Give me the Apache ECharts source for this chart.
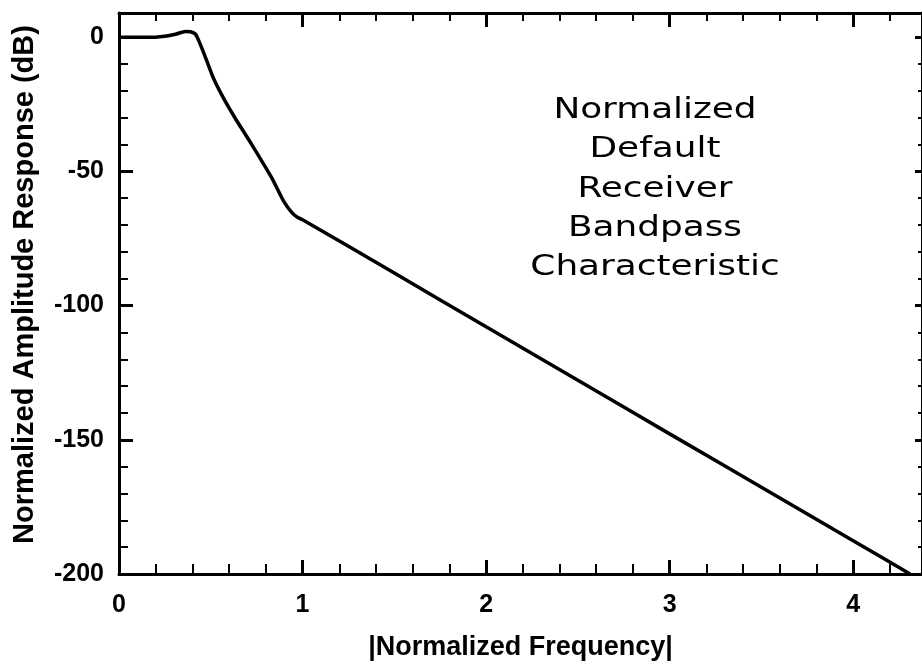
<!DOCTYPE html>
<html>
<head>
<meta charset="utf-8">
<script src="https://cdn.jsdelivr.net/npm/echarts@6/dist/echarts.min.js"></script>
<style>
html,body{margin:0;padding:0;background:#fff;}
#chart{width:922px;height:666px;}
</style>
</head>
<body>
<div id="chart"></div>
<script>
// Data
const freq = [0, 0.1, 0.2, 0.25, 0.308, 0.362, 0.39, 0.417, 0.435, 0.471, 0.516, 0.571, 0.634, 0.725, 0.833, 0.897, 0.942, 0.97, 1.0, 1.5, 2.0, 2.5, 3.0, 3.5, 4.0, 4.31];
const responseDb = [0, 0, 0, 0.3, 1.1, 2.1, 2.0, 1.1, -1.4, -7.5, -15.5, -22.9, -30.3, -40.2, -52.5, -61.1, -65.4, -67.0, -68.0, -87.9, -107.9, -127.8, -147.8, -167.7, -187.6, -200];
const xTickLabels = ['0', '1', '2', '3', '4'];
const yTickLabels = ['0', '-50', '-100', '-150', '-200'];
const annotationLines = ['Normalized', 'Default', 'Receiver', 'Bandpass', 'Characteristic'];
const xTitle = '|Normalized Frequency|';
const yTitle = 'Normalized Amplitude Response (dB)';

const X_MIN = 0, X_MAX = 4.375, Y_MIN = -200, Y_MAX = 9;
const FONT = 'Liberation Sans, Arial, Helvetica, sans-serif';
const lineStyle = {color: '#000', width: 3};

function tick(len, w) {
  return {show: true, inside: true, length: len, lineStyle: {color: '#000', width: w}};
}
function xAx(opts) {
  return Object.assign({
    type: 'value', min: X_MIN, max: X_MAX, gridIndex: 0,
    splitLine: {show: false},
    axisLine: {show: false, onZero: false},
    axisTick: tick(14, 3),
    axisLabel: {show: false}
  }, opts);
}
function yAx(opts) {
  return Object.assign({
    type: 'value', min: Y_MIN, max: Y_MAX, gridIndex: 0,
    splitLine: {show: false},
    axisLine: {show: false, onZero: false},
    axisTick: tick(14, 3),
    axisLabel: {show: false}
  }, opts);
}

const chart = echarts.init(document.getElementById('chart'), null, {renderer: 'canvas'});
chart.setOption({
  animation: false,
  backgroundColor: '#fff',
  grid: {left: 119, right: -2, top: 13, bottom: 87, show: false},
  xAxis: [
    xAx({
      position: 'bottom', interval: 1,
      axisLine: {show: true, onZero: false, lineStyle: lineStyle},
      axisLabel: {
        show: true, margin: 19, color: '#000', fontFamily: FONT, fontWeight: 'bold', fontSize: 25,
        showMaxLabel: false,
        formatter: function (v) { const i = Math.round(v); return Math.abs(v - i) < 1e-6 && i < xTickLabels.length ? xTickLabels[i] : ''; }
      },
      name: xTitle, nameLocation: 'middle', nameGap: 60,
      nameTextStyle: {color: '#000', fontFamily: FONT, fontWeight: 'bold', fontSize: 27}
    }),
    xAx({position: 'bottom', interval: 0.2, axisTick: tick(10, 2)}),
    xAx({position: 'top', interval: 1, axisLine: {show: true, onZero: false, lineStyle: lineStyle}}),
    xAx({position: 'top', interval: 0.2, axisTick: tick(8, 2)})
  ],
  yAxis: [
    yAx({
      position: 'left', interval: 50,
      axisLine: {show: true, onZero: false, lineStyle: lineStyle},
      axisLabel: {
        show: true, margin: 15, color: '#000', fontFamily: FONT, fontWeight: 'bold', fontSize: 25,
        showMaxLabel: false,
        formatter: function (v) { const i = Math.round(-v / 50); return Math.abs(v + i * 50) < 1e-6 && i >= 0 && i < yTickLabels.length ? yTickLabels[i] : ''; }
      },
      name: yTitle, nameLocation: 'middle', nameGap: 80,
      nameTextStyle: {color: '#000', fontFamily: FONT, fontWeight: 'bold', fontSize: 29, padding: [0, 0, 0, 18]}
    }),
    yAx({position: 'left', interval: 10, axisTick: tick(9, 2)}),
    yAx({position: 'right', interval: 50, axisLine: {show: true, onZero: false, lineStyle: lineStyle}, axisTick: tick(7, 3)}),
    yAx({position: 'right', interval: 10, axisTick: tick(4, 2)})
  ],
  series: [{
    type: 'line',
    xAxisIndex: 0, yAxisIndex: 0,
    data: freq.map((f, i) => [f, responseDb[i]]),
    showSymbol: false, symbol: 'none',
    smooth: 0.2,
    lineStyle: {color: '#000', width: 3.5},
    clip: true
  }],
  graphic: [{
    type: 'text',
    x: 655, y: 91,
    scaleX: 1.28,
    style: {
      text: annotationLines.join('\n'),
      fill: '#000',
      font: '28px "DejaVu Sans", Verdana, sans-serif',
      textAlign: 'center',
      textVerticalAlign: 'top',
      lineHeight: 39.3
    }
  }]
});
</script>
</body>
</html>
